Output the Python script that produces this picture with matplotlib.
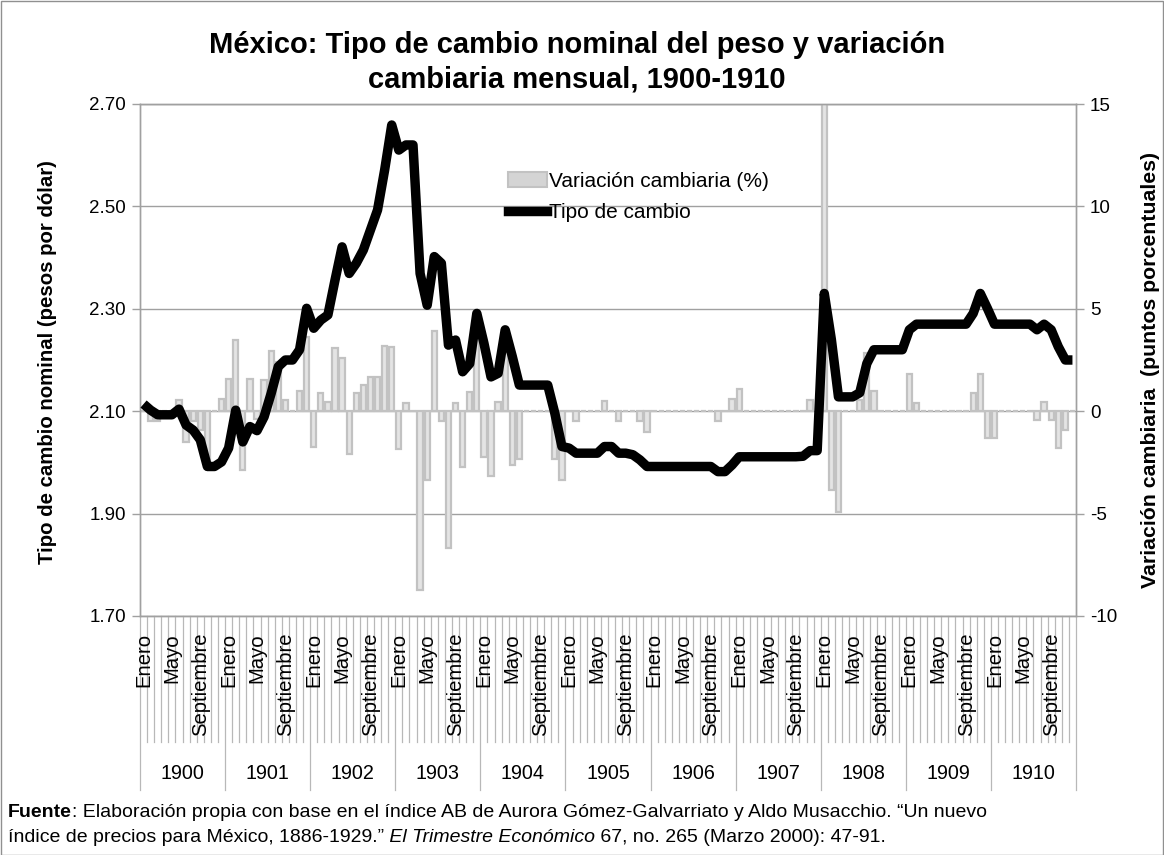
import matplotlib
matplotlib.use("Agg")
import matplotlib.pyplot as plt
import matplotlib.transforms as mtransforms
from matplotlib import font_manager
from matplotlib.lines import Line2D
from matplotlib.patches import Patch, Rectangle
import numpy as np

# ---------------------------------------------------------------------------
# Datos: enero 1900 - diciembre 1910
# ---------------------------------------------------------------------------

anios = [str(a) for a in range(1900, 1911)]
etiquetas_mes = ["Enero", "", "", "", "Mayo", "", "", "", "Septiembre", "", "", ""]

# Tipo de cambio nominal (pesos por dólar)
tipo_cambio = [
    2.114, 2.102, 2.093, 2.093, 2.093, 2.104, 2.073, 2.063, 2.044, 1.992, 1.992, 2.001,  # 1900
    2.028, 2.102, 2.040, 2.070, 2.062, 2.089, 2.135, 2.187, 2.200, 2.200, 2.220, 2.301,  # 1901
    2.262, 2.278, 2.288, 2.356, 2.421, 2.369, 2.389, 2.415, 2.454, 2.493, 2.571, 2.659,  # 1902
    2.610, 2.620, 2.620, 2.369, 2.307, 2.402, 2.389, 2.229, 2.239, 2.177, 2.193, 2.291,  # 1903
    2.233, 2.167, 2.174, 2.259, 2.207, 2.151, 2.151, 2.151, 2.151, 2.151, 2.096, 2.031,  # 1904
    2.028, 2.018, 2.018, 2.018, 2.018, 2.031, 2.031, 2.018, 2.018, 2.015, 2.005, 1.992,  # 1905
    1.992, 1.992, 1.992, 1.992, 1.992, 1.992, 1.992, 1.992, 1.992, 1.982, 1.982, 1.995,  # 1906
    2.011, 2.011, 2.011, 2.011, 2.011, 2.011, 2.011, 2.011, 2.011, 2.012, 2.023, 2.023,  # 1907
    2.330, 2.240, 2.128, 2.128, 2.128, 2.136, 2.193, 2.220, 2.220, 2.220, 2.220, 2.220,  # 1908
    2.259, 2.270, 2.270, 2.270, 2.270, 2.270, 2.270, 2.270, 2.270, 2.291, 2.330, 2.301,  # 1909
    2.270, 2.270, 2.270, 2.270, 2.270, 2.270, 2.259, 2.270, 2.259, 2.226, 2.200, 2.200,  # 1910
]

# Variación cambiaria mensual (%)
variacion = [
    0.0, -0.5, -0.5, 0.0, 0.0, 0.55, -1.5, -0.5, -0.9, -2.5, 0.0, 0.6,          # 1900
    1.55, 3.5, -2.85, 1.55, -0.4, 1.5, 2.95, 2.4, 0.55, 0.0, 1.0, 3.64,         # 1901
    -1.76, 0.9, 0.47, 3.07, 2.58, -2.09, 0.87, 1.28, 1.69, 1.69, 3.2, 3.12,     # 1902
    -1.86, 0.42, 0.0, -8.73, -3.37, 3.93, -0.46, -6.7, 0.42, -2.71, 0.96, 3.7,  # 1903
    -2.22, -3.17, 0.47, 3.0, -2.63, -2.35, 0.0, 0.0, 0.0, 0.0, -2.35, -3.37,    # 1904
    0.0, -0.5, 0.0, 0.0, 0.0, 0.5, 0.0, -0.5, 0.0, 0.0, -0.5, -1.03,            # 1905
    0.0, 0.0, 0.0, 0.0, 0.0, 0.0, 0.0, 0.0, 0.0, -0.5, 0.0, 0.58,               # 1906
    1.1, 0.0, 0.0, 0.0, 0.0, 0.0, 0.0, 0.0, 0.0, 0.0, 0.55, 0.0,                # 1907
    15.2, -3.85, -4.9, 0.0, 0.0, 0.55, 2.83, 1.0, 0.0, 0.0, 0.0, 0.0,           # 1908
    1.82, 0.42, 0.0, 0.0, 0.0, 0.0, 0.0, 0.0, 0.0, 0.9, 1.82, -1.33,            # 1909
    -1.33, 0.0, 0.0, 0.0, 0.0, 0.0, -0.43, 0.47, -0.43, -1.81, -0.92, 0.0,      # 1910
]

titulo_1 = "México: Tipo de cambio nominal del peso y variación"
titulo_2 = "cambiaria mensual, 1900-1910"
etiqueta_izq = "Tipo de cambio nominal (pesos por dólar)"
etiqueta_der = "Variación cambiaria  (puntos porcentuales)"


def _pick_font(names, default="DejaVu Sans"):
    for n in names:
        try:
            font_manager.findfont(n, fallback_to_default=False)
            return n
        except Exception:
            pass
    return default


BASE_FONT = _pick_font(["Liberation Sans", "Arial"])
NARROW_FONT = _pick_font(["Liberation Sans Narrow", "Arial Narrow"], default="")
plt.rcParams["font.family"] = [BASE_FONT, "DejaVu Sans"]
plt.rcParams["axes.unicode_minus"] = False

GRIS_EJE = "#a0a0a0"
GRIS_SEP = "#b8b8b8"

W, H = 1164, 855
fig = plt.figure(figsize=(W / 100, H / 100), dpi=100)
fig.patch.set_facecolor("white")

# plot area in pixels: x 140..1076, y 104..616
ax = fig.add_axes([140 / W, 1 - 616 / H, 936 / W, 512 / H])
ax2 = ax.twinx()

x = np.arange(len(tipo_cambio))

# bars (right axis) below, line (left axis) on top
ax2.bar(x, variacion, width=0.74, color="#e4e4e4", edgecolor="#c2c2c2",
        linewidth=1.6, zorder=2, label="Variación cambiaria (%)")
ax2.set_ylim(-10, 15)
ax2.set_yticks([-10, -5, 0, 5, 10, 15])
ax2.yaxis.grid(True, color=GRIS_EJE, linewidth=1.0)
ax2.set_axisbelow(True)

ax.plot(x, tipo_cambio, color="black", linewidth=6.8, solid_joinstyle="round",
        solid_capstyle="butt", zorder=3, label="Tipo de cambio")
ax.set_zorder(ax2.get_zorder() + 1)
ax.patch.set_visible(False)
ax.set_ylim(1.70, 2.70)
ax.set_yticks([1.70, 1.90, 2.10, 2.30, 2.50, 2.70])
ax.set_yticklabels([f"{v:.2f}" for v in [1.70, 1.90, 2.10, 2.30, 2.50, 2.70]])
ax.set_xlim(-0.5, len(x) - 0.5)
ax.set_xticks([])

for a in (ax, ax2):
    for s in a.spines.values():
        s.set_color(GRIS_EJE)
        s.set_linewidth(1.0)
    a.tick_params(axis="y", direction="out", length=6, width=1.0,
                  color=GRIS_EJE, labelsize=13.5, labelcolor="black", pad=4)

# multi-level category axis (months / years)
trans = mtransforms.blended_transform_factory(ax.transData, ax.transAxes)
for k in range(len(x) + 1):
    bottom = -0.34 if k % 12 == 0 else -0.246
    ax.add_line(Line2D([k - 0.5, k - 0.5], [0, bottom], transform=trans,
                       color=GRIS_SEP, linewidth=0.9, clip_on=False))

for i in x:
    lab = etiquetas_mes[i % 12]
    if lab:
        ax.text(i, -0.033, lab, transform=trans, rotation=90, ha="center",
                va="top", fontsize=14.6, clip_on=False)

for k, anio in enumerate(anios):
    ax.text(12 * k + 5.5, -0.307, anio, transform=trans, ha="center",
            va="center", fontsize=14.2, clip_on=False)

# axis labels
fig.text(48 / W, 1 - 362 / H, etiqueta_izq, rotation=90, ha="center",
         va="center", fontsize=14.7, fontweight="bold")
fig.text(1150 / W, 1 - 370 / H, etiqueta_der, rotation=90, ha="center",
         va="center", fontsize=15.3, fontweight="bold")

# title
fig.text(577 / W, 1 - 45 / H, titulo_1, ha="center", va="center",
         fontsize=21, fontweight="bold")
fig.text(577 / W, 1 - 80 / H, titulo_2, ha="center", va="center",
         fontsize=21, fontweight="bold")

# legend
handles = [
    Patch(facecolor="#d4d4d4", edgecolor="#c2c2c2", linewidth=1.5,
          label="Variación cambiaria (%)"),
    Line2D([0], [0], color="black", linewidth=6.8, label="Tipo de cambio"),
]
ax.legend(handles=handles, loc="upper left",
          bbox_to_anchor=(508 / W, 1 - 172 / H), bbox_transform=fig.transFigure,
          frameon=False, fontsize=15, handlelength=1.85, handletextpad=0.1,
          labelspacing=0.6, borderpad=0.0, borderaxespad=0.0)

# footer with mixed styles
if NARROW_FONT:
    pie_fam, pie_size = [NARROW_FONT, "DejaVu Sans"], 15.5
else:
    pie_fam, pie_size = [BASE_FONT, "DejaVu Sans"], 14

fuente_1 = [("Fuente", "bold", "normal"),
            (": Elaboración propia con base en el índice AB de Aurora "
             "Gómez-Galvarriato y Aldo Musacchio. “Un nuevo", "normal", "normal")]
fuente_2 = [("índice de precios para México, 1886-1929.”", "normal", "normal"),
            (" El Trimestre Económico", "normal", "italic"),
            (" 67, no. 265 (Marzo 2000): 47-91.", "normal", "normal")]


def _linea(piezas, y_px):
    prev = None
    for txt, peso, estilo in piezas:
        if prev is None:
            prev = fig.text(8 / W, 1 - y_px / H, txt, ha="left", va="bottom",
                            fontsize=pie_size, fontweight=peso,
                            fontstyle=estilo, family=pie_fam)
        else:
            prev = ax.annotate(txt, xy=(1, 0), xycoords=prev, ha="left",
                               va="bottom", fontsize=pie_size, fontweight=peso,
                               fontstyle=estilo, family=pie_fam,
                               annotation_clip=False)


_linea(fuente_1, 821)
_linea(fuente_2, 846)

# chart border
fig.add_artist(Rectangle((0.5 / W, 0.5 / H), 1 - 1.5 / W, 1 - 1.5 / H,
                         transform=fig.transFigure, fill=False,
                         edgecolor="#909090", linewidth=1.0))

fig.savefig("out.png", dpi=100)
plt.close(fig)
